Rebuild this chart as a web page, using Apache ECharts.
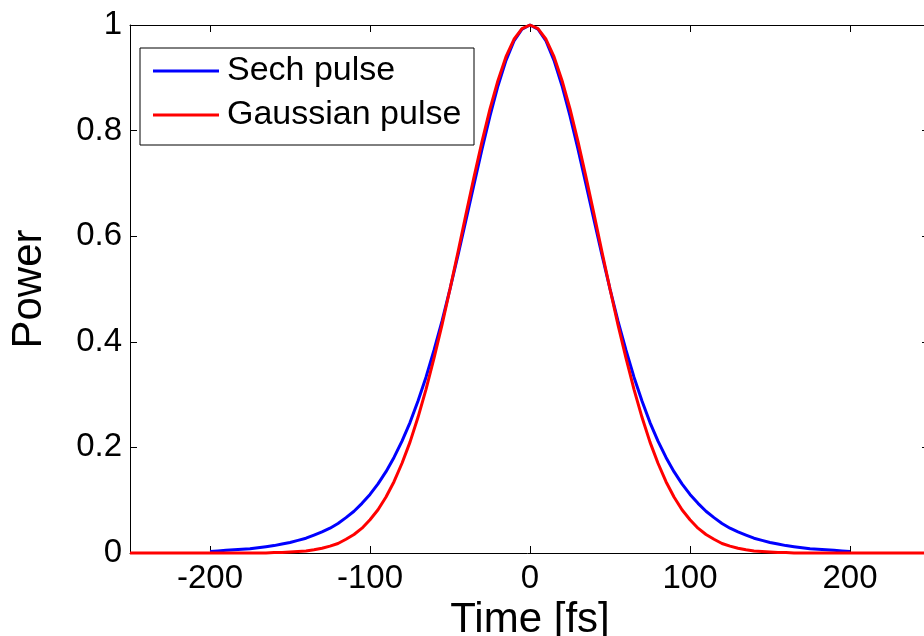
<!DOCTYPE html>
<html>
<head>
<meta charset="utf-8">
<script src="https://cdn.jsdelivr.net/npm/echarts@6/dist/echarts.min.js"></script>
<style>
html,body{margin:0;padding:0;background:#fff;}
#chart{width:924px;height:636px;}
</style>
</head>
<body>
<div id="chart"></div>
<script>
// Sech pulse
const sechTime = [-200,-195,-190,-185,-180,-175,-170,-165,-160,-155,-150,-145,-140,-135,-130,-125,-120,-115,-110,-105,-100,-95,-90,-85,-80,-75,-70,-65,-60,-55,-50,-45,-40,-35,-30,-25,-20,-15,-10,-5,0,5,10,15,20,25,30,35,40,45,50,55,60,65,70,75,80,85,90,95,100,105,110,115,120,125,130,135,140,145,150,155,160,165,170,175,180,185,190,195,200];
const sechPower = [0.003,0.004,0.005,0.006,0.007,0.008,0.010,0.012,0.014,0.017,0.020,0.024,0.028,0.034,0.040,0.047,0.056,0.067,0.079,0.094,0.111,0.131,0.154,0.181,0.212,0.247,0.288,0.333,0.384,0.439,0.500,0.564,0.631,0.698,0.765,0.828,0.885,0.933,0.970,0.992,1.000,0.992,0.970,0.933,0.885,0.828,0.765,0.698,0.631,0.564,0.500,0.439,0.384,0.333,0.288,0.247,0.212,0.181,0.154,0.131,0.111,0.094,0.079,0.067,0.056,0.047,0.040,0.034,0.028,0.024,0.020,0.017,0.014,0.012,0.010,0.008,0.007,0.006,0.005,0.004,0.003];

// Gaussian pulse
const gaussTime = [-250,-245,-240,-235,-230,-225,-220,-215,-210,-205,-200,-195,-190,-185,-180,-175,-170,-165,-160,-155,-150,-145,-140,-135,-130,-125,-120,-115,-110,-105,-100,-95,-90,-85,-80,-75,-70,-65,-60,-55,-50,-45,-40,-35,-30,-25,-20,-15,-10,-5,0,5,10,15,20,25,30,35,40,45,50,55,60,65,70,75,80,85,90,95,100,105,110,115,120,125,130,135,140,145,150,155,160,165,170,175,180,185,190,195,200,205,210,215,220,225,230,235,240,245,250];
const gaussPower = [0,0,0,0,0,0,0,0,0,0,0,0,0,0,0,0,0,0,0.001,0.001,0.002,0.003,0.004,0.006,0.009,0.013,0.018,0.026,0.035,0.047,0.063,0.082,0.106,0.135,0.170,0.210,0.257,0.310,0.369,0.432,0.500,0.570,0.642,0.712,0.779,0.841,0.895,0.940,0.973,0.993,1.000,0.993,0.973,0.940,0.895,0.841,0.779,0.712,0.642,0.570,0.500,0.432,0.369,0.310,0.257,0.210,0.170,0.135,0.106,0.082,0.063,0.047,0.035,0.026,0.018,0.013,0.009,0.006,0.004,0.003,0.002,0.001,0.001,0,0,0,0,0,0,0,0,0,0,0,0,0,0,0,0,0,0];

const xTicks = [-200,-100,0,100,200];
const seriesNames = ['Sech pulse','Gaussian pulse'];

const FONT = '"Liberation Sans", Arial, Helvetica, sans-serif';
const zip = (a,b) => a.map((v,i)=>[v,b[i]]);

const chart = echarts.init(document.getElementById('chart'), null, {renderer:'canvas'});
const axisLine = {show:true, onZero:false, lineStyle:{color:'#000', width:1}};
const tickStyle = {color:'#000', width:1};

chart.setOption({
  animation:false,
  backgroundColor:'#fff',
  grid:{left:130, right:-6, top:25, bottom:83, containLabel:false, outerBoundsMode:'none'},
  legend:{
    orient:'vertical', left:140, top:48,
    data:seriesNames,
    icon:'rect', itemWidth:66, itemHeight:3,
    itemGap:0,
    padding:[1,10,8,13],
    backgroundColor:'#fff', borderColor:'#000', borderWidth:1, borderRadius:0,
    textStyle:{fontFamily:FONT, fontSize:34, color:'#000', lineHeight:44, width:237, padding:[0,0,0,3]}
  },
  xAxis:[
    {type:'value', position:'bottom', min:-250, max:250,
     axisLine:axisLine,
     axisTick:{show:true, inside:true, length:7, customValues:xTicks, lineStyle:tickStyle},
     axisLabel:{show:true, customValues:xTicks, fontFamily:FONT, fontSize:33, color:'#000', margin:9},
     splitLine:{show:false},
     name:'Time [fs]', nameLocation:'middle', nameGap:38,
     nameTextStyle:{fontFamily:FONT, fontSize:42, color:'#000'}},
    {type:'value', position:'top', min:-250, max:250,
     axisLine:axisLine,
     axisTick:{show:true, inside:true, length:7, customValues:xTicks, lineStyle:tickStyle},
     axisLabel:{show:false}, splitLine:{show:false}}
  ],
  yAxis:[
    {type:'value', position:'left', min:0, max:1, interval:0.2,
     axisLine:axisLine,
     axisTick:{show:true, inside:true, length:7, lineStyle:tickStyle},
     axisLabel:{fontFamily:FONT, fontSize:33, color:'#000', margin:8},
     splitLine:{show:false},
     name:'Power', nameLocation:'middle', nameGap:80,
     nameTextStyle:{fontFamily:FONT, fontSize:42, color:'#000'}},
    {type:'value', position:'right', min:0, max:1, interval:0.2,
     axisLine:axisLine,
     axisTick:{show:true, inside:true, length:8, lineStyle:tickStyle},
     axisLabel:{show:false}, splitLine:{show:false}}
  ],
  series:[
    {name:seriesNames[0], type:'line', data:zip(sechTime, sechPower), showSymbol:false, symbol:'none', clip:false,
     lineStyle:{color:'#0000ff', width:3}, itemStyle:{color:'#0000ff'}, z:2},
    {name:seriesNames[1], type:'line', data:zip(gaussTime, gaussPower), showSymbol:false, symbol:'none', clip:false,
     lineStyle:{color:'#ff0000', width:3}, itemStyle:{color:'#ff0000'}, z:3}
  ]
});
</script>
</body>
</html>
